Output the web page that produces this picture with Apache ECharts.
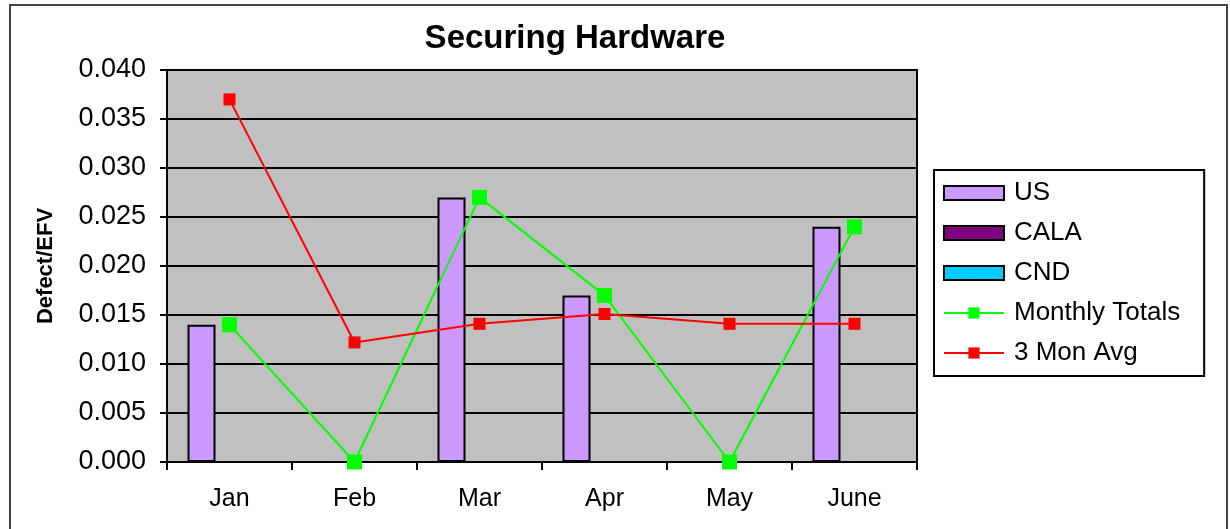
<!DOCTYPE html>
<html>
<head>
<meta charset="utf-8">
<script src="https://cdn.jsdelivr.net/npm/echarts@6/dist/echarts.min.js"></script>
<style>
html,body{margin:0;padding:0;background:#fff;}
#chart{width:1230px;height:529px;}
</style>
</head>
<body>
<div id="chart"></div>
<script>
const categories = ['Jan', 'Feb', 'Mar', 'Apr', 'May', 'June'];
const usValues = [0.014, 0, 0.027, 0.017, 0, 0.024];
const calaValues = [0, 0, 0, 0, 0, 0];
const cndValues = [0, 0, 0, 0, 0, 0];
const monthlyTotals = [0.014, 0, 0.027, 0.017, 0, 0.024];
const threeMonAvg = [0.037, 0.0122, 0.0141, 0.0151, 0.0141, 0.0141];
const yMin = 0, yMax = 0.04, yStep = 0.005;

const chart = echarts.init(document.getElementById('chart'), null, {renderer: 'canvas'});
const font = '"Liberation Sans", Arial, sans-serif';
const barStyle = (c) => ({color: c, borderColor: '#000', borderWidth: 2});

chart.setOption({
  animation: false,
  backgroundColor: '#fff',
  textStyle: {fontFamily: font, color: '#000'},
  title: {
    text: 'Securing Hardware',
    left: 570, top: 17, textAlign: 'center',
    textStyle: {fontFamily: font, fontWeight: 'bold', fontSize: 33, color: '#000'}
  },
  graphic: [{
    type: 'rect', silent: true, z: -1,
    shape: {x: 10, y: 5, width: 1217, height: 540},
    style: {fill: 'none', stroke: '#444', lineWidth: 2}
  }],
  grid: {
    left: 167, top: 70, right: 313, bottom: 67,
    show: true, backgroundColor: '#c0c0c0', borderColor: '#000', borderWidth: 2
  },
  legend: {
    orient: 'vertical',
    left: 934, top: 170,
    padding: [10, 24, 10, 9],
    borderColor: '#000', borderWidth: 2,
    itemWidth: 60, itemHeight: 14, itemGap: 14,
    textStyle: {fontFamily: font, fontSize: 26, color: '#000', padding: [0, 0, 0, 5]},
    data: [
      {name: 'US', icon: 'rect'},
      {name: 'CALA', icon: 'rect'},
      {name: 'CND', icon: 'rect'},
      {name: 'Monthly Totals'},
      {name: '3 Mon Avg'}
    ]
  },
  xAxis: {
    type: 'category',
    data: categories,
    axisLine: {lineStyle: {color: '#000', width: 2}},
    axisTick: {show: true, length: 8, lineStyle: {color: '#000', width: 2}},
    axisLabel: {fontFamily: font, fontSize: 25, color: '#000', margin: 25}
  },
  yAxis: {
    type: 'value', min: yMin, max: yMax, interval: yStep,
    name: 'Defect/EFV', nameLocation: 'middle', nameGap: 110,
    nameTextStyle: {fontFamily: font, fontWeight: 'bold', fontSize: 22, color: '#000'},
    axisLine: {show: true, lineStyle: {color: '#000', width: 2}},
    axisTick: {show: true, length: 7, lineStyle: {color: '#000', width: 2}},
    axisLabel: {fontFamily: font, fontSize: 27, color: '#000', margin: 21,
      formatter: (v) => v.toFixed(3)},
    splitLine: {show: true, lineStyle: {color: '#000', width: 2}}
  },
  series: [
    {name: 'US', type: 'bar', data: usValues, barWidth: 28, barGap: '0%', itemStyle: barStyle('#cc99ff')},
    {name: 'CALA', type: 'bar', data: calaValues, barWidth: 28, barGap: '0%', itemStyle: barStyle('#800080')},
    {name: 'CND', type: 'bar', data: cndValues, barWidth: 28, barGap: '0%', itemStyle: barStyle('#00ccff')},
    {name: 'Monthly Totals', type: 'line', data: monthlyTotals, symbol: 'rect', symbolSize: 15,
      lineStyle: {color: '#00ff00', width: 2}, itemStyle: {color: '#00ff00'}, z: 3},
    {name: '3 Mon Avg', type: 'line', data: threeMonAvg, symbol: 'rect', symbolSize: 12,
      lineStyle: {color: '#ff0000', width: 2}, itemStyle: {color: '#ff0000'}, z: 3}
  ]
});
</script>
</body>
</html>
